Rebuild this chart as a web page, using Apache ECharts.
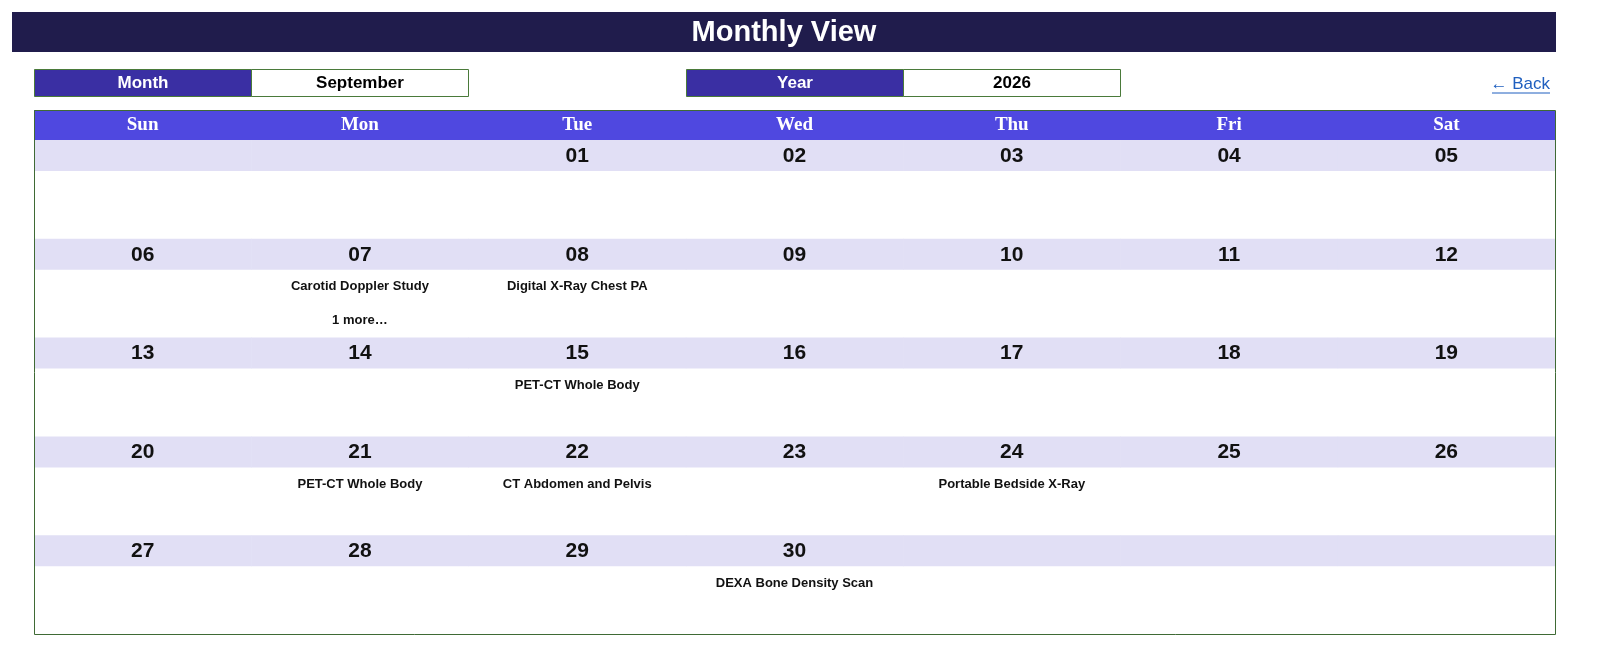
<!DOCTYPE html>
<html><head><meta charset="utf-8">
<script src="https://cdn.jsdelivr.net/npm/echarts@6/dist/echarts.min.js"></script>
<style>html,body{margin:0;padding:0;background:#fff;overflow:hidden}#c{width:1600px;height:661px}</style>
</head><body><div id="c"></div>
<script>
const title = "Monthly View";
const monthName = "September";
const yearValue = "2026";
const weekdays = ["Sun","Mon","Tue","Wed","Thu","Fri","Sat"];
const weeks = ["W1","W2","W3","W4","W5"];
const firstWeekday = 2; // Sept 1 2026 is Tuesday
const daysInMonth = 30;
const eventDays = [7, 8, 15, 21, 22, 24, 30];
const eventFirst = ["Carotid Doppler Study","Digital X-Ray Chest PA","PET-CT Whole Body","PET-CT Whole Body","CT Abdomen and Pelvis","Portable Bedside X-Ray","DEXA Bone Density Scan"];
const eventMore = ["1 more…","","","","","",""];

const cells = [];
for (let w = 0; w < weeks.length; w++) for (let d = 0; d < 7; d++) {
  const day = w * 7 + d - firstWeekday + 1;
  const idx = eventDays.indexOf(day);
  cells.push([d, w, (day >= 1 && day <= daysInMonth) ? String(day).padStart(2, "0") : "",
    idx >= 0 ? eventFirst[idx] : "", idx >= 0 ? eventMore[idx] : ""]);
}

const chart = echarts.init(document.getElementById('c'));
const txt = (x, y, text, font, fill, align) => ({type:'text', x, y, style:{text, font, fill, align: align||'center', verticalAlign:'middle'}});
chart.setOption({
  animation:false,
  grid:{left:34, right:45, top:140, bottom:27},
  xAxis:{type:'category', data:weekdays, position:'top', axisLine:{show:false}, axisTick:{show:false},
    axisLabel:{color:'#fff', fontFamily:'Liberation Serif', fontWeight:'bold', fontSize:19, margin:15, verticalAlign:'middle'}},
  yAxis:{type:'category', data:weeks, inverse:true, show:false},
  graphic:[
    {type:'rect', shape:{x:12,y:12,width:1544,height:40}, style:{fill:'#201c4c'}},
    txt(784, 33, title, 'bold 29px "Liberation Sans"', '#fff'),
    {type:'rect', shape:{x:34.5,y:69.5,width:217,height:27}, style:{fill:'#3a2fa3', stroke:'#4a7a3a', lineWidth:1}},
    {type:'rect', shape:{x:251.5,y:69.5,width:217,height:27}, style:{fill:'#fff', stroke:'#4a7a3a', lineWidth:1}},
    txt(143, 83, 'Month', 'bold 17px "Liberation Sans"', '#fff'),
    txt(360, 83, monthName, 'bold 17px "Liberation Sans"', '#000'),
    {type:'rect', shape:{x:686.5,y:69.5,width:217,height:27}, style:{fill:'#3a2fa3', stroke:'#4a7a3a', lineWidth:1}},
    {type:'rect', shape:{x:903.5,y:69.5,width:217,height:27}, style:{fill:'#fff', stroke:'#4a7a3a', lineWidth:1}},
    txt(795, 83, 'Year', 'bold 17px "Liberation Sans"', '#fff'),
    txt(1012, 83, yearValue, 'bold 17px "Liberation Sans"', '#000'),
    txt(1550, 84, '← Back', '17px "Liberation Sans"', '#1f5fbf', 'right'),
    {type:'line', shape:{x1:1492,y1:93,x2:1550,y2:93}, style:{stroke:'#1f5fbf', lineWidth:1}},
    {type:'rect', z:-1, shape:{x:34,y:110,width:1521,height:30}, style:{fill:'#4f48e0'}},
    {type:'rect', z:10, shape:{x:34.5,y:110.5,width:1521,height:524}, style:{fill:'none', stroke:'#3f6a35', lineWidth:1}}
  ],
  series:[{
    type:'custom', data:cells,
    renderItem:(params, api) => {
      const c = api.coord([api.value(0), api.value(1)]);
      const s = api.size([1, 1]);
      const x0 = c[0] - s[0]/2, y0 = c[1] - s[1]/2;
      const dateStr = cells[params.dataIndex][2], e1 = cells[params.dataIndex][3], e2 = cells[params.dataIndex][4];
      const ch = [
        {type:'rect', shape:{x:x0, y:y0, width:s[0]+0.5, height:31}, style:{fill:'#e1dff5'}},
        {type:'text', style:{x:c[0], y:y0+16, text:dateStr, font:'bold 21px "Liberation Sans"', fill:'#111', align:'center', verticalAlign:'middle'}},
        {type:'text', style:{x:c[0], y:y0+48, text:e1, font:'bold 13px "Liberation Sans"', fill:'#111', align:'center', verticalAlign:'middle'}},
        {type:'text', style:{x:c[0], y:y0+82, text:e2, font:'bold 13px "Liberation Sans"', fill:'#111', align:'center', verticalAlign:'middle'}}
      ];
      return {type:'group', children:ch};
    }
  }]
});
</script></body></html>
